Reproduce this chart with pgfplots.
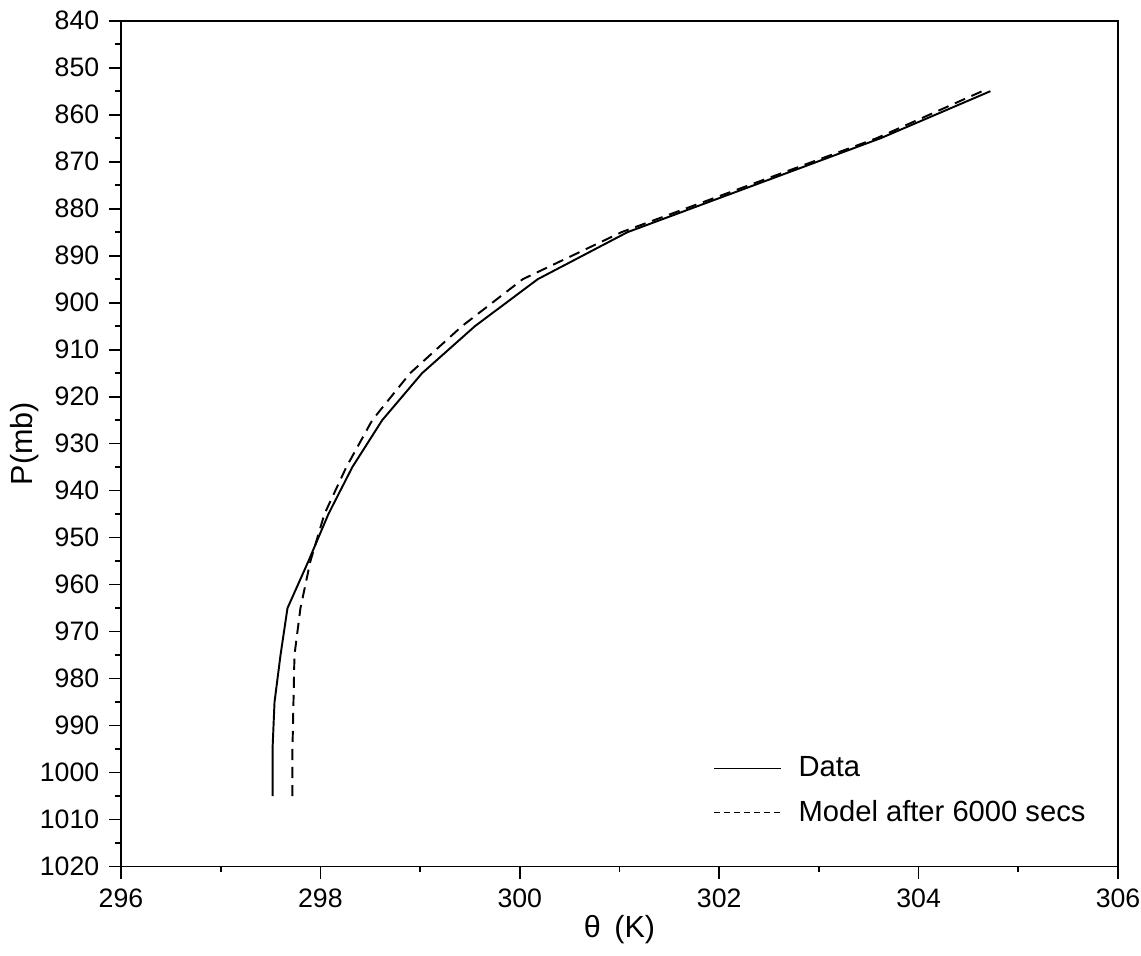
\documentclass[border=0pt]{standalone}
\usepackage{fontspec}
\setmainfont{Liberation Sans}
\usepackage{pgfplots}
\pgfplotsset{compat=1.18}
\begin{document}
\begin{tikzpicture}
\begin{axis}[
  scale only axis,
  width=359pt, height=304.6pt,
  xmin=296, xmax=306, ymin=840, ymax=1020,
  y dir=reverse,
  xtick={296,298,...,306},
  ytick={840,850,...,1020},
  minor x tick num=1, minor y tick num=1,
  tick align=outside, tick pos=left,
  major tick length=4.3pt, minor tick length=2pt,
  every tick/.style={black, line width=0.6pt},
  axis line style={line width=0.6pt},
  /pgf/number format/assume math mode=true,
  /pgf/number format/.cd, 1000 sep={}, /pgfplots/.cd,
  tick label style={font=\fontsize{9.6}{11}\selectfont},
  xlabel={θ\ \,(K)}, ylabel={P(mb)},
  label style={font=\fontsize{11}{13}\selectfont},
  xlabel style={at={(axis description cs:0.5,-0.0745)}, anchor=center},
  ylabel style={at={(axis description cs:-0.0964,0.5)}, anchor=center},
  legend style={draw=none, fill=none, at={(0.993,0.035)}, anchor=south east,
    font=\fontsize{10.5}{12}\selectfont, row sep=3pt,
    nodes={inner xsep=6pt}},
  legend cell align=left,
  legend image code/.code={\draw[#1] (0pt,0pt) -- (24pt,0pt);},
]
\addplot[black, line width=0.7pt] coordinates {
 (297.52,1005) (297.52,995) (297.54,985) (297.60,975) (297.67,965)
 (297.88,955) (298.08,945) (298.32,935) (298.62,925) (299.02,915)
 (299.55,905) (300.18,895) (301.08,885) (302.35,875) (303.62,865) (304.72,855)
};
\addlegendentry{Data}
\addplot[black, line width=0.7pt, dash pattern=on 4pt off 2.5pt,
  legend image code/.code={\draw[black, line width=0.5pt, dash pattern=on 2pt off 1.6pt] (0pt,0pt) -- (24pt,0pt);}] coordinates {
 (297.72,1005) (297.72,995) (297.73,985) (297.74,975) (297.80,965)
 (297.90,955) (298.04,945) (298.26,935) (298.52,925) (298.90,915)
 (299.42,905) (300.03,895) (301.02,885) (302.30,875) (303.58,865) (304.68,854.6)
};
\addlegendentry{Model after 6000 secs}
\end{axis}
\pgfresetboundingbox
\path[use as bounding box] ([xshift=-43.56pt,yshift=-32.04pt]current axis.south west) rectangle ([xshift=8.28pt,yshift=7.45pt]current axis.north east);
\end{tikzpicture}
\end{document}
